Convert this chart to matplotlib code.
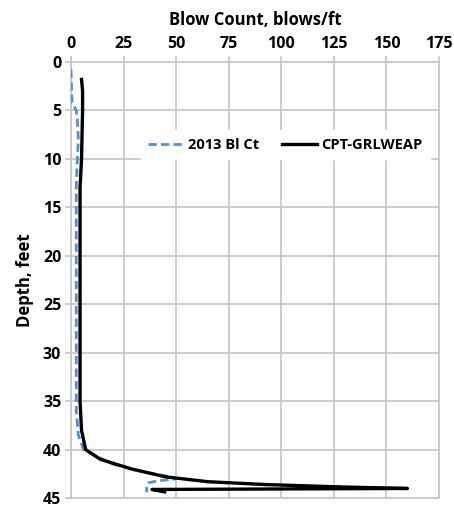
import numpy as np
import matplotlib
matplotlib.use("Agg")
import matplotlib.pyplot as plt

plt.rcParams['font.family'] = ['Open Sans', 'DejaVu Sans']
plt.rcParams['font.weight'] = 'bold'

# 2013 blow count record (depth ft, blows/ft)
bl_depth = [0.8, 4.2, 5.0, 6.0, 8.0, 10.0, 13.0, 20.0, 30.0, 36.0, 38.5,
            40.0, 41.5, 42.3, 42.7, 43.0, 43.2, 43.4, 43.6, 44.4]
bl_count = [0.0, 0.5, 2.5, 3.0, 3.5, 3.0, 2.5, 2.5, 2.5, 2.5, 3.5,
            6.0, 20.0, 35.0, 45.0, 50.0, 42.0, 37.0, 36.0, 36.0]

# CPT based GRLWEAP prediction
cpt_depth = [1.8, 3.0, 5.0, 10.0, 13.0, 20.0, 35.0, 38.0, 40.0, 41.0, 42.0,
             42.8, 43.3, 43.6, 43.85, 44.0, 44.1, 44.35]
cpt_count = [5.0, 5.5, 5.5, 5.0, 4.3, 4.3, 4.3, 5.0, 7.0, 14.0, 29.0,
             45.0, 65.0, 93.0, 130.0, 160.0, 38.5, 44.5]

x_ticks = [0, 25, 50, 75, 100, 125, 150, 175]
y_ticks = [0, 5, 10, 15, 20, 25, 30, 35, 40, 45]

fig = plt.figure(figsize=(4.54, 5.12), dpi=100)
ax = fig.add_axes([0.1564, 0.027, 0.8106, 0.852])

ax.plot(bl_count, bl_depth, color='#5b8fc9', lw=2.0, ls=(0, (3, 1.5)),
        label='2013 Bl Ct', zorder=3)
ax.plot(cpt_count, cpt_depth, color='black', lw=2.4, label='CPT-GRLWEAP',
        zorder=4)

ax.set_xlim(0, 175)
ax.set_ylim(45, 0)
ax.set_xticks(x_ticks)
ax.set_yticks(y_ticks)
ax.xaxis.tick_top()
ax.xaxis.set_label_position('top')
ax.grid(True, color='#c8c8c8', lw=1.3)
ax.set_axisbelow(True)
for s in ax.spines.values():
    s.set_color('#c8c8c8')
    s.set_linewidth(1.3)
ax.tick_params(axis='both', color='#c8c8c8', length=4, width=1.3,
               labelsize=11.5, pad=3)
for lab in ax.get_xticklabels() + ax.get_yticklabels():
    lab.set_fontweight('bold')

ax.set_xlabel('Blow Count, blows/ft', fontsize=12, fontweight='bold',
              labelpad=8)
ax.set_ylabel('Depth, feet', fontsize=12, fontweight='bold', labelpad=6)

leg = ax.legend(loc='upper left', bbox_to_anchor=(0.17, 0.86), ncol=2,
                frameon=True, framealpha=1, edgecolor='white',
                fancybox=False, fontsize=10.5, handlelength=2.4,
                handletextpad=0.3, columnspacing=1.6, borderpad=0.5)
for t in leg.get_texts():
    t.set_fontweight('bold')

fig.savefig('out.png', dpi=100)
